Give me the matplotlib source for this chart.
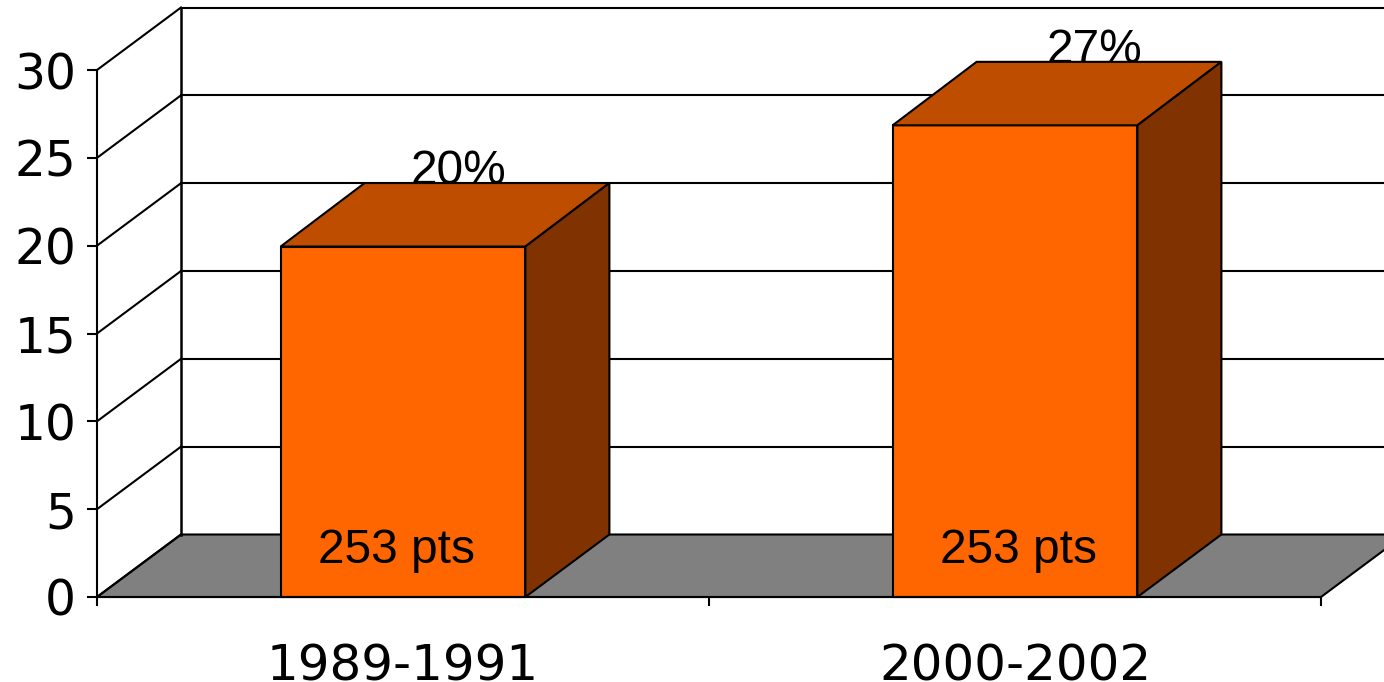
import matplotlib
matplotlib.use("Agg")
import matplotlib.pyplot as plt
from matplotlib.patches import Polygon

# values
periods = ["1989-1991", "2000-2002"]
percent = [19.95, 26.85]
pct_labels = ["20%", "27%"]
pts_labels = ["253 pts", "253 pts"]
y_ticks = [0, 5, 10, 15, 20, 25, 30]

W, H = 1384, 682
fig = plt.figure(figsize=(W / 100, H / 100), dpi=100)
# axes = front plane of the 3d box
ax = fig.add_axes([97 / W, (H - 597) / H, 1224 / W, 527 / H])
ax.set_xlim(0, 2)
ax.set_ylim(0, 30)

# depth of the fake 3d, in data units
dx = 84 / 612
dy = 62.5 / (527 / 30)
top_dy = 63.5 / (527 / 30)  # bar tops run a pixel deeper than the walls
bar_w = 0.4

top_face = "#bf4d00"
side_face = "#803300"
front_face = "#ff6600"
lw = 1.5

# label offsets from the bar slot, the two bars are not the same in the original
pct_dx = [0.59, 0.63]
pts_dx = [0.49, 0.505]


def poly(pts, fc, z):
    ax.add_patch(Polygon(pts, closed=True, fc=fc, ec="black", lw=lw, zorder=z, clip_on=False))


# floor
poly([(0, 0), (2, 0), (2 + dx, dy), (dx, dy)], "#808080", 1)

# back wall grid and side wall diagonals
for t in y_ticks:
    ax.plot([0, dx], [t, t + dy], color="black", lw=lw, zorder=1, clip_on=False)
    if t > 0:
        ax.plot([dx, 2 + dx], [t + dy, t + dy], color="black", lw=lw, zorder=1, clip_on=False)
ax.plot([dx, dx], [dy, 30 + dy], color="black", lw=lw + 0.3, zorder=1, clip_on=False)

# bars
for i, v in enumerate(percent):
    x0 = i + 0.5 - bar_w / 2
    x1 = x0 + bar_w
    poly([(x0, 0), (x1, 0), (x1, v), (x0, v)], front_face, 3)
    poly([(x0, v), (x1, v), (x1 + dx, v + top_dy), (x0 + dx, v + top_dy)], top_face, 3)
    poly([(x1, 0), (x1 + dx, dy), (x1 + dx, v + top_dy), (x1, v)], side_face, 3)
    # the % label sits partly behind the top face, as in the original
    ax.text(i + pct_dx[i], v + top_dy - 0.65, pct_labels[i], family="Liberation Sans", fontsize=34.5,
            ha="center", va="bottom", color="black", zorder=2, clip_on=False)
    ax.text(i + pts_dx[i], 2.65, pts_labels[i], family="Liberation Sans", fontsize=34.5,
            ha="center", va="center", color="black", zorder=4)

ax.patch.set_visible(False)
for name in ["top", "right"]:
    ax.spines[name].set_visible(False)
for name in ["left", "bottom"]:
    ax.spines[name].set_linewidth(lw)
    ax.spines[name].set_zorder(5)

ax.set_yticks(y_ticks)
ax.set_xticks([0, 1, 2])
ax.set_xticklabels([])
ax.set_xticks([0.5, 1.5], labels=periods, minor=True)
ax.tick_params(axis="y", length=7, width=lw, labelsize=35, pad=8)
ax.tick_params(axis="x", which="major", length=6.5, width=lw)
ax.tick_params(axis="x", which="minor", length=0, labelsize=36, pad=33)

fig.savefig("out.png", dpi=100)
